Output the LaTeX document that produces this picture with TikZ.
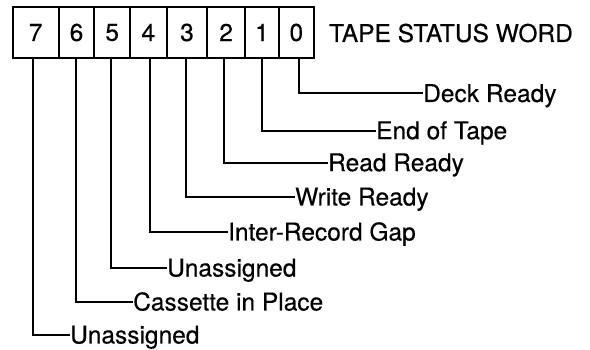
\documentclass[tikz,border=0pt]{standalone}
\usepackage{fontspec}
\setmainfont{TeX Gyre Heros}
\newfontfamily\lblfont{TeX Gyre Heros}[FakeBold=0.35]
\begin{document}
\begin{tikzpicture}[x=1pt,y=-1pt,
  cell/.style={draw,line width=1.8pt,minimum height=51pt,inner sep=0pt,font=\lblfont\fontsize{24.5}{27}\selectfont},
  lbl/.style={anchor=base west,inner sep=0pt,font=\lblfont\fontsize{24.5}{27}\selectfont},
  conn/.style={line width=2pt}]
\useasboundingbox (0,0) rectangle (590,350);
\node[cell,minimum width=46pt]   (c7) at (35.7,32.5) {7};
\node[cell,minimum width=35.6pt] (c6) at (76.5,32.5) {6};
\node[cell,minimum width=35.7pt] (c5) at (112.15,32.5) {5};
\node[cell,minimum width=36.7pt] (c4) at (148.35,32.5) {4};
\node[cell,minimum width=40.6pt] (c3) at (187,32.5) {3};
\node[cell,minimum width=37.7pt] (c2) at (226.15,32.5) {2};
\node[cell,minimum width=33.7pt] (c1) at (261.85,32.5) {1};
\node[cell,minimum width=35.3pt] (c0) at (296.35,32.5) {0};
\node[lbl] (title) at (329,42) {TAPE STATUS WORD};
\node[lbl] (l0) at (423,102) {Deck Ready};
\node[lbl] (l1) at (376,139.2) {End of Tape};
\node[lbl] (l2) at (328,171.2) {Read Ready};
\node[lbl] (l3) at (295,205.5) {Write Ready};
\node[lbl] (l4) at (228,240.5) {Inter-Record Gap};
\node[lbl] (l5) at (167,276.5) {Unassigned};
\node[lbl] (l6) at (133,310.5) {Cassette in Place};
\node[lbl] (l7) at (70,343.5) {Unassigned};
\draw[conn] ([xshift=2.6pt]c0.south) |- ([yshift=8.5pt]l0.base west);
\draw[conn] ([xshift=0pt]c1.south) |- ([yshift=8.5pt]l1.base west);
\draw[conn] ([xshift=-2.1pt]c2.south) |- ([yshift=8.5pt]l2.base west);
\draw[conn] ([xshift=-1pt]c3.south) |- ([yshift=8.5pt]l3.base west);
\draw[conn] ([xshift=1.6pt]c4.south) |- ([yshift=8.5pt]l4.base west);
\draw[conn] ([xshift=-1.1pt]c5.south) |- ([yshift=8.5pt]l5.base west);
\draw[conn] ([xshift=-0.5pt]c6.south) |- ([yshift=8.5pt]l6.base west);
\draw[conn] ([xshift=-3pt]c7.south) |- ([yshift=8.5pt]l7.base west);
\end{tikzpicture}
\end{document}
